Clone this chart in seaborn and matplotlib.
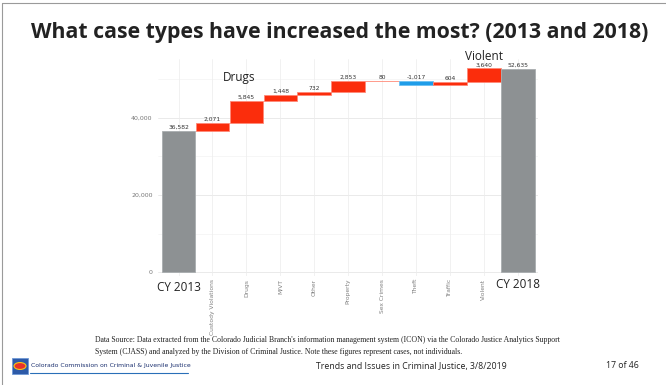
import numpy as np
import pandas as pd
import seaborn as sns
import matplotlib.pyplot as plt
from matplotlib.patches import Rectangle, Circle
from matplotlib.lines import Line2D

# Dados do gráfico
categorias = ['CY 2013', 'Custody Violations', 'Drugs', 'M/VT', 'Other', 'Property',
              'Sex Crimes', 'Theft', 'Traffic', 'Violent', 'CY 2018']
variacoes = [36582, 2071, 5845, 1448, 732, 2853, 80, -1017, 604, 3640, 52635]
rotulos = ['36,582', '2,071', '5,845', '1,448', '732', '2,853', '80', '-1,017', '604', '3,640', '52,635']
tipo = ['total', 'sobe', 'sobe', 'sobe', 'sobe', 'sobe', 'sobe', 'desce', 'sobe', 'sobe', 'total']

cores = {'total': '#8d9193', 'sobe': '#fb2d0c', 'desce': '#1f9de9'}
bordas = {'total': '#a9adaf', 'sobe': '#ff8a78', 'desce': '#6cc0f2'}

# Calcular as bases da cascata
bases, alturas = [], []
acumulado = 0
for v, t in zip(variacoes, tipo):
    if t == 'total':
        bases.append(0)
        alturas.append(v)
        acumulado = v
    else:
        bases.append(min(acumulado, acumulado + v))
        alturas.append(abs(v))
        acumulado += v

sns.set_theme(style='white')
plt.rcParams['font.family'] = ['DejaVu Sans']

fig = plt.figure(figsize=(6.66, 3.85), dpi=100)
fig.patch.set_facecolor('white')
ax = fig.add_axes([0.2375, 0.283, 0.5705, 0.564])

# Grade no estilo ggplot
for y in [0, 20000, 40000]:
    ax.axhline(y, color='#e6e6e6', lw=0.6, zorder=0)
for y in [10000, 30000, 50000]:
    ax.axhline(y, color='#f0f0f0', lw=0.4, zorder=0)
for i in range(len(categorias)):
    ax.axvline(i, color='#ececec', lw=0.5, zorder=0)

# Desenhar as barras
for i, cat in enumerate(categorias):
    sns.barplot(x=[cat], y=[alturas[i]], order=categorias, bottom=bases[i],
                color=cores[tipo[i]], edgecolor=bordas[tipo[i]], linewidth=0.6,
                width=0.99, saturation=1, ax=ax, zorder=2)
    topo = bases[i] + alturas[i]
    ax.text(i, topo + 250, rotulos[i], ha='center', va='bottom', fontsize=4.3,
            color='#333333', zorder=3)

ax.set_xlim(-0.6, 10.6)
ax.set_ylim(-1000, 55300)
ax.set_yticks([0, 20000, 40000])
ax.set_yticklabels(['0', '20,000', '40,000'], fontsize=4.5, color='#777777')
ax.set_xticks(range(len(categorias)))
ax.set_xticklabels(['' if t == 'total' else c for c, t in zip(categorias, tipo)],
                   rotation=90, fontsize=4.3, color='#808080', va='top')
ax.tick_params(axis='both', length=0, pad=2)
ax.tick_params(axis='y', pad=4)
ax.set_xlabel('')
ax.set_ylabel('')
for s in ax.spines.values():
    s.set_visible(False)

# Rótulos grandes das barras totais e destaques
ax.text(0, -2200, 'CY 2013', ha='center', va='top', fontsize=8.5, color='#222222',
        family='Open Sans')
ax.text(10, -1600, 'CY 2018', ha='center', va='top', fontsize=8.5, color='#222222',
        family='Open Sans')
ax.text(1.8, 50500, 'Drugs', ha='center', va='center', fontsize=8.5, color='#222222',
        family='Open Sans')
ax.text(9.0, 56000, 'Violent', ha='center', va='center', fontsize=8.5, color='#222222',
        family='Open Sans', clip_on=False)

# Título
fig.text(0.51, 0.915, 'What case types have increased the most? (2013 and 2018)',
         ha='center', va='center', fontsize=15.3, fontweight='bold', color='#222222',
         family='Open Sans')

# Rodapé
fig.text(95 / 666, 1 - 340 / 385,
         "Data Source: Data extracted from the Colorado Judicial Branch's information management system (ICON) via the Colorado Justice Analytics Support",
         ha='left', va='center', fontsize=5.6, color='#222222', family='Liberation Serif')
fig.text(95 / 666, 1 - 352 / 385,
         "System (CJASS) and analyzed by the Division of Criminal Justice. Note these figures represent cases, not individuals.",
         ha='left', va='center', fontsize=5.6, color='#222222', family='Liberation Serif')
fig.text(31 / 666, 1 - 366 / 385, 'Colorado Commission on Criminal & Juvenile Justice',
         ha='left', va='center', fontsize=4.4, color='#1a2f6e', family='DejaVu Sans')
fig.add_artist(Line2D([30 / 666, 188 / 666], [1 - 373 / 385] * 2, color='#2a6fb8', lw=0.8))
fig.text(411 / 666, 1 - 366 / 385, 'Trends and Issues in Criminal Justice, 3/8/2019',
         ha='center', va='center', fontsize=6.3, color='#222222', family='Open Sans')
fig.text(622 / 666, 1 - 366 / 385, '17 of 46', ha='center', va='center', fontsize=6.3,
         color='#222222', family='Open Sans')

# Logotipo simplificado
fig.add_artist(Rectangle((12 / 666, 1 - 374 / 385), 16 / 666, 16 / 385,
                         facecolor='#2d5aa8', edgecolor='#6f9ad6', lw=0.6))
fig.add_artist(Circle((20 / 666, 1 - 366 / 385), 0.009, facecolor='#e8322a',
                      edgecolor='#f5c518', lw=0.8, transform=fig.transFigure))

# Moldura do slide
fig.add_artist(Line2D([2 / 666, 2 / 666], [0, 1 - 3 / 385], color='#9a9a9a', lw=0.8))
fig.add_artist(Line2D([2 / 666, 1], [1 - 3 / 385] * 2, color='#9a9a9a', lw=0.8))

fig.savefig('out.png', dpi=100)
